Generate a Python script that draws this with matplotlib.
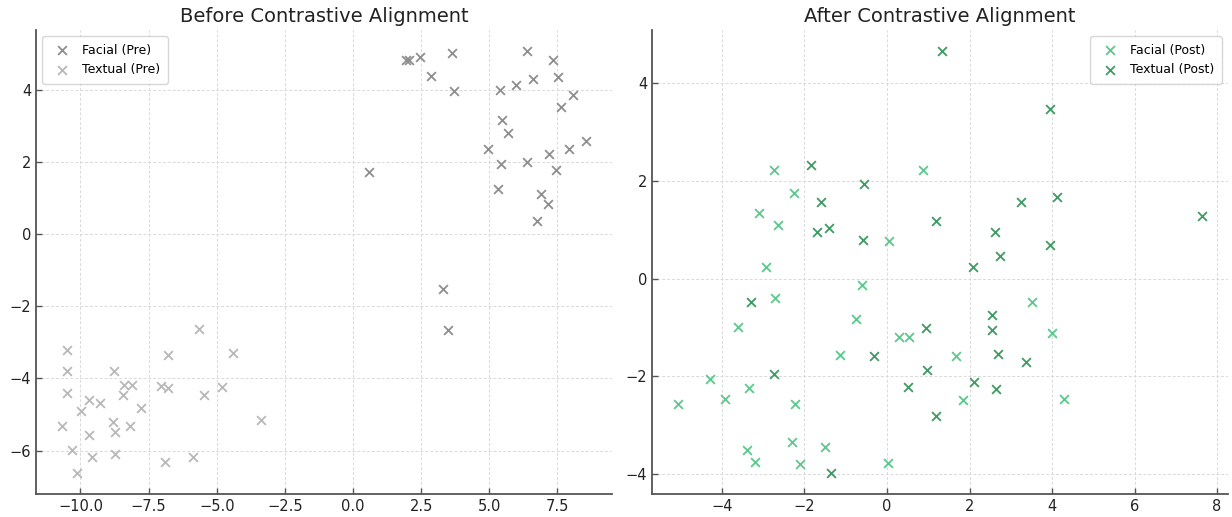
import matplotlib
matplotlib.use("Agg")
import matplotlib.pyplot as plt

# Embedding coordinates before alignment
pre_facial_x = [1.96, 2.05, 2.45, 3.63, 2.86, 3.69, 0.60, 6.37, 7.34, 6.60,
                7.53, 5.98, 5.41, 8.08, 7.62, 5.46, 5.67, 8.54, 4.96, 7.94,
                7.19, 5.44, 6.39, 7.43, 5.30, 6.89, 7.15, 6.76, 3.30, 3.47]
pre_facial_y = [4.82, 4.82, 4.90, 5.02, 4.39, 3.96, 1.71, 5.07, 4.82, 4.30,
                4.35, 4.13, 4.00, 3.85, 3.51, 3.15, 2.79, 2.59, 2.36, 2.37,
                2.21, 1.94, 1.99, 1.78, 1.26, 1.11, 0.82, 0.35, -1.53, -2.65]

pre_textual_x = [-10.48, -10.48, -10.48, -10.67, -10.30, -10.13, -9.99, -9.67, -9.67, -9.59,
                 -9.27, -8.78, -8.80, -8.72, -8.74, -8.42, -8.10, -8.45, -7.77, -8.17,
                 -7.06, -6.78, -6.78, -6.91, -5.66, -5.48, -4.79, -4.42, -5.88, -3.39]
pre_textual_y = [-3.22, -3.79, -4.41, -5.31, -5.99, -6.62, -4.91, -4.60, -5.56, -6.18,
                 -4.67, -3.80, -5.21, -5.49, -6.10, -4.19, -4.19, -4.46, -4.82, -5.33,
                 -4.20, -4.28, -3.35, -6.32, -2.63, -4.45, -4.24, -3.31, -6.19, -5.15]

# Embedding coordinates after alignment
post_facial_x = [-2.74, 0.87, -2.26, -3.10, -2.65, 0.06, -2.94, -2.72, -0.60, -0.74,
                 3.52, -3.62, 0.30, 0.53, -1.13, -4.28, -3.34, -3.92, -5.06, -2.24,
                 -2.30, -1.49, -3.39, -3.20, -2.11, 0.02, 4.00, 1.67, 1.85, 4.30]
post_facial_y = [2.23, 2.23, 1.75, 1.35, 1.09, 0.78, 0.24, -0.39, -0.14, -0.82,
                 -0.47, -1.00, -1.20, -1.20, -1.56, -2.05, -2.24, -2.46, -2.57, -2.56,
                 -3.34, -3.45, -3.52, -3.76, -3.80, -3.78, -1.12, -1.59, -2.49, -2.46]

post_textual_x = [1.34, 3.96, -1.83, -0.55, -1.59, -1.69, -1.41, -0.59, 1.20, -3.29,
                  3.25, 4.11, 7.63, 2.63, 3.95, 2.75, 2.08, 2.55, 0.94, -0.31,
                  0.97, -2.75, 0.52, 1.19, -1.36, 2.54, 2.69, 3.38, 2.10, 2.64]
post_textual_y = [4.66, 3.47, 2.33, 1.94, 1.56, 0.95, 1.03, 0.80, 1.19, -0.47,
                  1.57, 1.67, 1.28, 0.95, 0.68, 0.46, 0.24, -0.75, -1.01, -1.59,
                  -1.88, -1.96, -2.22, -2.82, -3.98, -1.06, -1.54, -1.71, -2.12, -2.27]

titles = ["Before Contrastive Alignment", "After Contrastive Alignment"]
labels_pre = ["Facial (Pre)", "Textual (Pre)"]
labels_post = ["Facial (Post)", "Textual (Post)"]

plt.rcParams["font.family"] = ["DejaVu Sans"]

W, H = 1232, 517
fig = plt.figure(figsize=(W / 100, H / 100), dpi=100)
ax1 = fig.add_axes([36 / W, (H - 494) / H, 576 / W, 464 / H])
ax2 = fig.add_axes([652 / W, (H - 494) / H, 576 / W, 464 / H])


def style(ax):
    ax.grid(True, linestyle=(0, (3, 2)), color="#d9d9d9", linewidth=0.7)
    ax.set_axisbelow(True)
    for side in ("top", "right"):
        ax.spines[side].set_visible(False)
    for side in ("left", "bottom"):
        ax.spines[side].set_color("#555555")
        ax.spines[side].set_linewidth(1.3)
    ax.tick_params(direction="in", length=4, width=1, color="#555555",
                   labelsize=10.5, labelcolor="#222222")


mk = dict(marker="x", s=40, linewidths=1.3)

ax1.scatter(pre_facial_x, pre_facial_y, color="#8e8e8e", label=labels_pre[0], **mk)
ax1.scatter(pre_textual_x, pre_textual_y, color="#b8b8b8", label=labels_pre[1], **mk)
ax1.set_title(titles[0], fontsize=14, color="#222222", pad=6)
style(ax1)
ax1.legend(loc="upper left", fontsize=9, frameon=True, edgecolor="#cccccc",
           handletextpad=0.6, borderpad=0.6)

ax2.scatter(post_facial_x, post_facial_y, color="#5cc88b", label=labels_post[0], **mk)
ax2.scatter(post_textual_x, post_textual_y, color="#3f9a63", label=labels_post[1], **mk)
ax2.set_title(titles[1], fontsize=14, color="#222222", pad=6)
style(ax2)
ax2.legend(loc="upper right", fontsize=9, frameon=True, edgecolor="#cccccc",
           handletextpad=0.6, borderpad=0.6)

fig.savefig("out.png", dpi=100)
